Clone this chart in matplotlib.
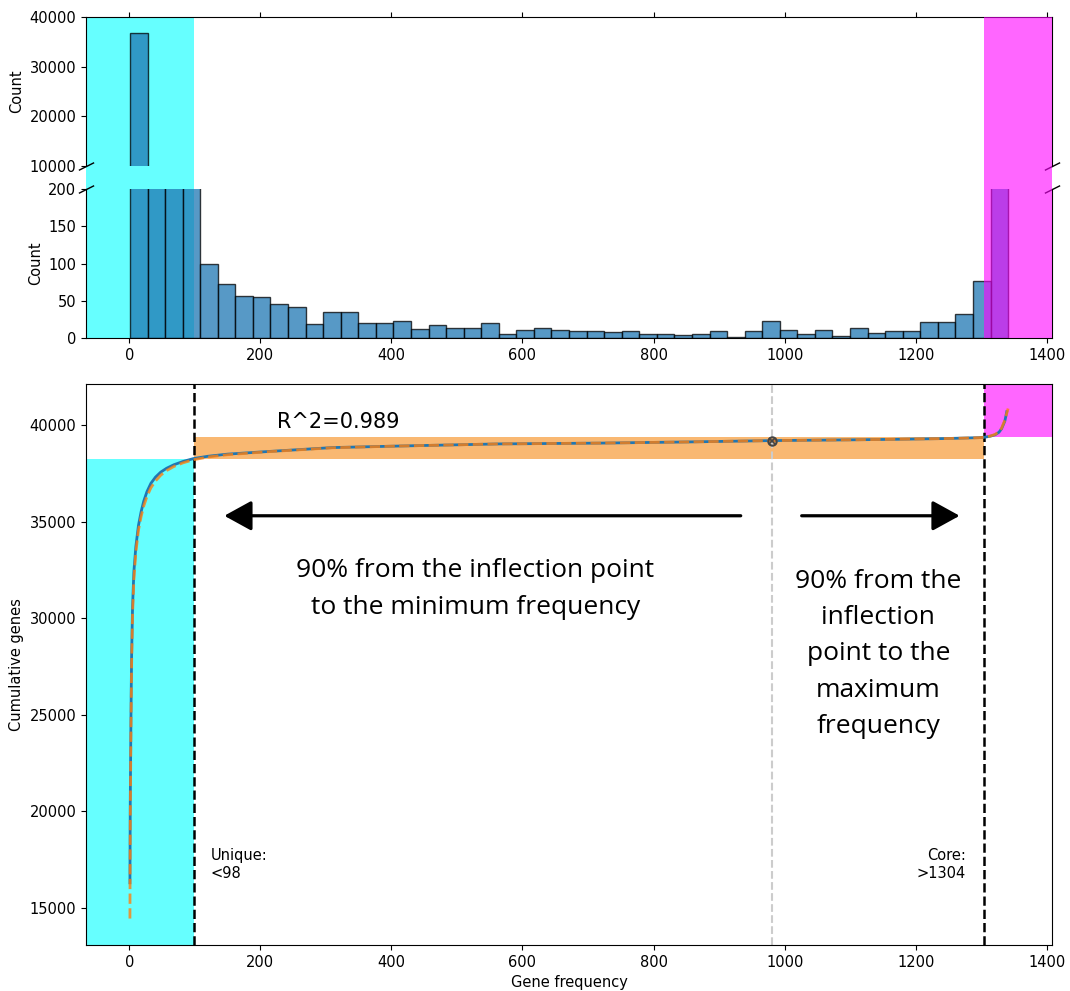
import numpy as np
import matplotlib.pyplot as plt

# histogram of gene frequencies (50 bins between min and max frequency)
freq_min = 1
freq_max = 1341
bin_counts = [36800, 800, 420, 260, 100, 73, 57, 55, 46, 42,
              19, 35, 35, 20, 20, 23, 12, 18, 13, 14,
              20, 6, 11, 13, 11, 10, 10, 8, 10, 6,
              6, 4, 6, 9, 1, 9, 23, 11, 5, 11,
              3, 13, 7, 10, 10, 21, 21, 32, 76, 1500]

# cumulative genes curve (observed)
obs_freq = [1, 1.5, 2.5, 3.5, 5, 7, 10, 14, 18, 22, 27, 33, 40, 48, 57,
            68, 82, 98, 120, 150, 209, 310, 412, 565, 717, 850, 978, 1100,
            1174, 1250, 1296, 1306, 1314, 1321, 1327, 1331, 1336, 1339]
obs_cum = [16300, 20500, 24700, 28000, 30600, 32400, 33700, 34800, 35500,
           36050, 36550, 36980, 37300, 37560, 37760, 37940, 38110, 38260,
           38380, 38490, 38620, 38830, 38910, 39020, 39060, 39120, 39190,
           39230, 39260, 39300, 39345, 39370, 39420, 39490, 39620, 39800,
           40200, 40690]

# fitted curve
fit_freq = [1, 1.5, 2.5, 3.5, 5, 7, 10, 14, 18, 22, 27, 33, 40, 48, 57,
            68, 82, 98, 120, 150, 209, 310, 412, 565, 717, 850, 978, 1100,
            1174, 1250, 1296, 1306, 1314, 1321, 1327, 1331, 1336, 1341]
fit_cum = [14450, 19500, 24000, 27500, 30200, 32000, 33400, 34550, 35250,
           35800, 36300, 36750, 37100, 37400, 37640, 37850, 38040, 38200,
           38340, 38460, 38610, 38820, 38910, 39020, 39060, 39120, 39190,
           39230, 39260, 39300, 39340, 39370, 39430, 39510, 39650, 39830,
           40250, 40850]

unique_cut = 98
core_cut = 1304
inflection_x = 980
inflection_y = 39190
cum_at_unique = 38260
cum_at_core = 39365
r2 = 0.989

xlim = (-66, 1408)

fig = plt.figure(figsize=(10.7, 9.91), dpi=100)
ax_top = fig.add_axes([0.0804, 0.8325, 0.9028, 0.1503])
ax_low = fig.add_axes([0.0804, 0.6589, 0.9028, 0.1504])
ax_cum = fig.add_axes([0.0804, 0.0464, 0.9028, 0.5661])

edges = np.linspace(freq_min, freq_max, len(bin_counts) + 1)
centers = (edges[:-1] + edges[1:]) / 2

for ax in (ax_top, ax_low):
    # the top panel's spans also fill the gap between the two panels
    ymin = -0.16 if ax is ax_top else 0
    ax.axvspan(xlim[0], unique_cut, ymin=ymin, color='cyan', alpha=0.6,
               lw=0, zorder=0, clip_on=False)
    ax.hist(centers, bins=edges, weights=bin_counts, color='#1f77b4',
            alpha=0.75, edgecolor='black', linewidth=1, zorder=1)
    ax.axvspan(core_cut, xlim[1], ymin=ymin, color='magenta', alpha=0.6,
               lw=0, zorder=3, clip_on=False)
    ax.set_xlim(*xlim)
    ax.set_xticks(range(0, 1401, 200))
    ax.set_ylabel('Count', fontsize=10.5)
    ax.tick_params(labelsize=10.5)

ax_top.set_ylim(10000, 40000)
ax_top.set_yticks([10000, 20000, 30000, 40000])
ax_low.set_ylim(0, 200)
ax_low.set_yticks([0, 50, 100, 150, 200])

ax_top.spines['bottom'].set_visible(False)
ax_low.spines['top'].set_visible(False)
ax_top.xaxis.tick_top()
ax_top.tick_params(labeltop=False)
ax_low.xaxis.tick_bottom()

# break marks
kw = dict(marker=[(-1, -0.5), (1, 0.5)], markersize=11, linestyle='none',
          color='k', mec='k', mew=1, clip_on=False)
ax_top.plot([0, 1], [0, 0], transform=ax_top.transAxes, **kw)
ax_low.plot([0, 1], [1, 1], transform=ax_low.transAxes, **kw)

# cumulative plot
ax_cum.set_xlim(*xlim)
ax_cum.set_ylim(13080, 42120)
ylo, yhi = ax_cum.get_ylim()
ax_cum.fill_between([xlim[0], unique_cut], ylo, cum_at_unique,
                    color='cyan', alpha=0.6, lw=0, zorder=0)
ax_cum.fill_between([unique_cut, core_cut], cum_at_unique, cum_at_core,
                    color='#f9b872', lw=0, zorder=0)
ax_cum.fill_between([core_cut, xlim[1]], cum_at_core, yhi,
                    color='magenta', alpha=0.6, lw=0, zorder=0)

ax_cum.axvline(unique_cut, color='black', ls='--', lw=1.8, zorder=2)
ax_cum.axvline(core_cut, color='black', ls='--', lw=1.8, zorder=2)
ax_cum.axvline(inflection_x, color='#cccccc', ls='--', lw=1.5, zorder=1)

ax_cum.plot(obs_freq, obs_cum, color='#1f77b4', lw=2, zorder=3)
ax_cum.plot(fit_freq, fit_cum, color='#ff7f0e', lw=2, ls='--', alpha=0.8,
            zorder=4)
ax_cum.plot([inflection_x], [inflection_y], marker='o', ms=6, mfc='none',
            mec='#444444', mew=1.5, zorder=5)
ax_cum.plot([inflection_x], [inflection_y], marker='x', ms=5,
            color='#444444', mew=1.2, zorder=5)

ax_cum.text(226, 40150, f'R^2={r2}', fontsize=15, ha='left', va='center')
ax_cum.text(124, 17250, f'Unique:\n<{unique_cut}', fontsize=10.5,
            ha='left', va='center')
ax_cum.text(1277, 17250, f'Core:\n>{core_cut}', fontsize=10.5,
            ha='right', va='center', multialignment='right')

arrow = dict(arrowstyle='-|>,head_length=0.6,head_width=0.33',
             mutation_scale=28, lw=2.3, color='black', shrinkA=0, shrinkB=0)
ax_cum.annotate('', xy=(145, 35300), xytext=(933, 35300), arrowprops=arrow)
ax_cum.annotate('', xy=(1267, 35300), xytext=(1026, 35300), arrowprops=arrow)

ax_cum.text(528, 31500, '90% from the inflection point\nto the minimum frequency',
            fontsize=19, family='Open Sans', ha='center', va='center',
            linespacing=1.65)
ax_cum.text(1143, 28150,
            '90% from the\ninflection\npoint to the\nmaximum\nfrequency',
            fontsize=19, family='Open Sans', ha='center', va='center',
            linespacing=1.6)

ax_cum.set_xticks(range(0, 1401, 200))
ax_cum.set_yticks(range(15000, 40001, 5000))
ax_cum.tick_params(labelsize=10.5)
ax_cum.set_xlabel('Gene frequency', fontsize=10.5)
ax_cum.set_ylabel('Cumulative genes', fontsize=10.5)

fig.savefig('out.png', dpi=100)
